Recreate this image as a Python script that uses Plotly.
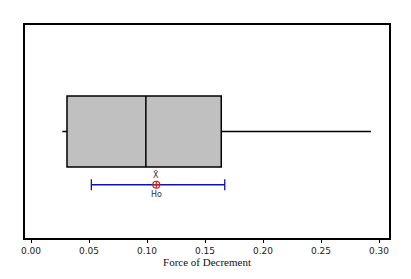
import plotly.graph_objects as go

# Box-plot statistics (Force of Decrement)
q1 = [0.031]
median = [0.099]
q3 = [0.164]
lower_whisker = [0.027]
upper_whisker = [0.293]

# Confidence interval for the mean and hypothesised value
ci_low = 0.052
ci_high = 0.167
mean_val = 0.108
h0_val = 0.108

x_ticks = [0.00, 0.05, 0.10, 0.15, 0.20, 0.25, 0.30]
x_tick_labels = ["0.00", "0.05", "0.10", "0.15", "0.20", "0.25", "0.30"]

box_y = 0.5
ci_y = 0.25

fig = go.Figure()

fig.add_trace(go.Box(
    y=[box_y], q1=q1, median=median, q3=q3,
    lowerfence=lower_whisker, upperfence=upper_whisker,
    orientation="h", width=0.333, whiskerwidth=0,
    fillcolor="#c0c0c0", line=dict(color="black", width=1.5),
    boxpoints=False, showlegend=False, hoverinfo="skip",
))

fig.add_trace(go.Scatter(
    x=[ci_low, ci_high], y=[ci_y, ci_y], mode="lines+markers",
    line=dict(color="#1010b0", width=1.3),
    marker=dict(symbol="line-ns-open", size=8, color="#1010b0", line=dict(width=1.3, color="#1010b0")),
    showlegend=False, hoverinfo="skip",
))

fig.add_trace(go.Scatter(
    x=[h0_val], y=[ci_y], mode="markers",
    marker=dict(symbol="circle-cross-open", size=7, color="#cc2020", line=dict(width=1.2, color="#cc2020")),
    showlegend=False, hoverinfo="skip",
))

fig.add_annotation(x=mean_val, y=0.298, text="X̄", showarrow=False,
                   font=dict(family="DejaVu Sans", size=8, color="#333333"))
fig.add_annotation(x=h0_val, y=0.205, text="Ho", showarrow=False,
                   font=dict(family="DejaVu Sans", size=8, color="#333333"))

fig.update_layout(
    width=411, height=279,
    margin=dict(l=25, r=22, t=25, b=38),
    paper_bgcolor="white", plot_bgcolor="white",
    xaxis=dict(
        range=[-0.0052, 0.3086], tickvals=x_ticks, ticktext=x_tick_labels,
        ticks="outside", ticklen=3, tickcolor="black", tickwidth=1,
        showgrid=False, zeroline=False,
        showline=True, linecolor="black", linewidth=2, mirror=True,
        tickfont=dict(family="DejaVu Sans", size=9, color="#222222"),
        title=dict(text="Force of Decrement", standoff=4,
                   font=dict(family="Liberation Serif", size=11, color="#111111")),
    ),
    yaxis=dict(
        range=[0, 1], showticklabels=False, ticks="", showgrid=False, zeroline=False,
        showline=True, linecolor="black", linewidth=2, mirror=True,
    ),
)

fig.write_html("out.html", config={"displayModeBar": False},
               post_script="document.body.style.margin='0px';")
